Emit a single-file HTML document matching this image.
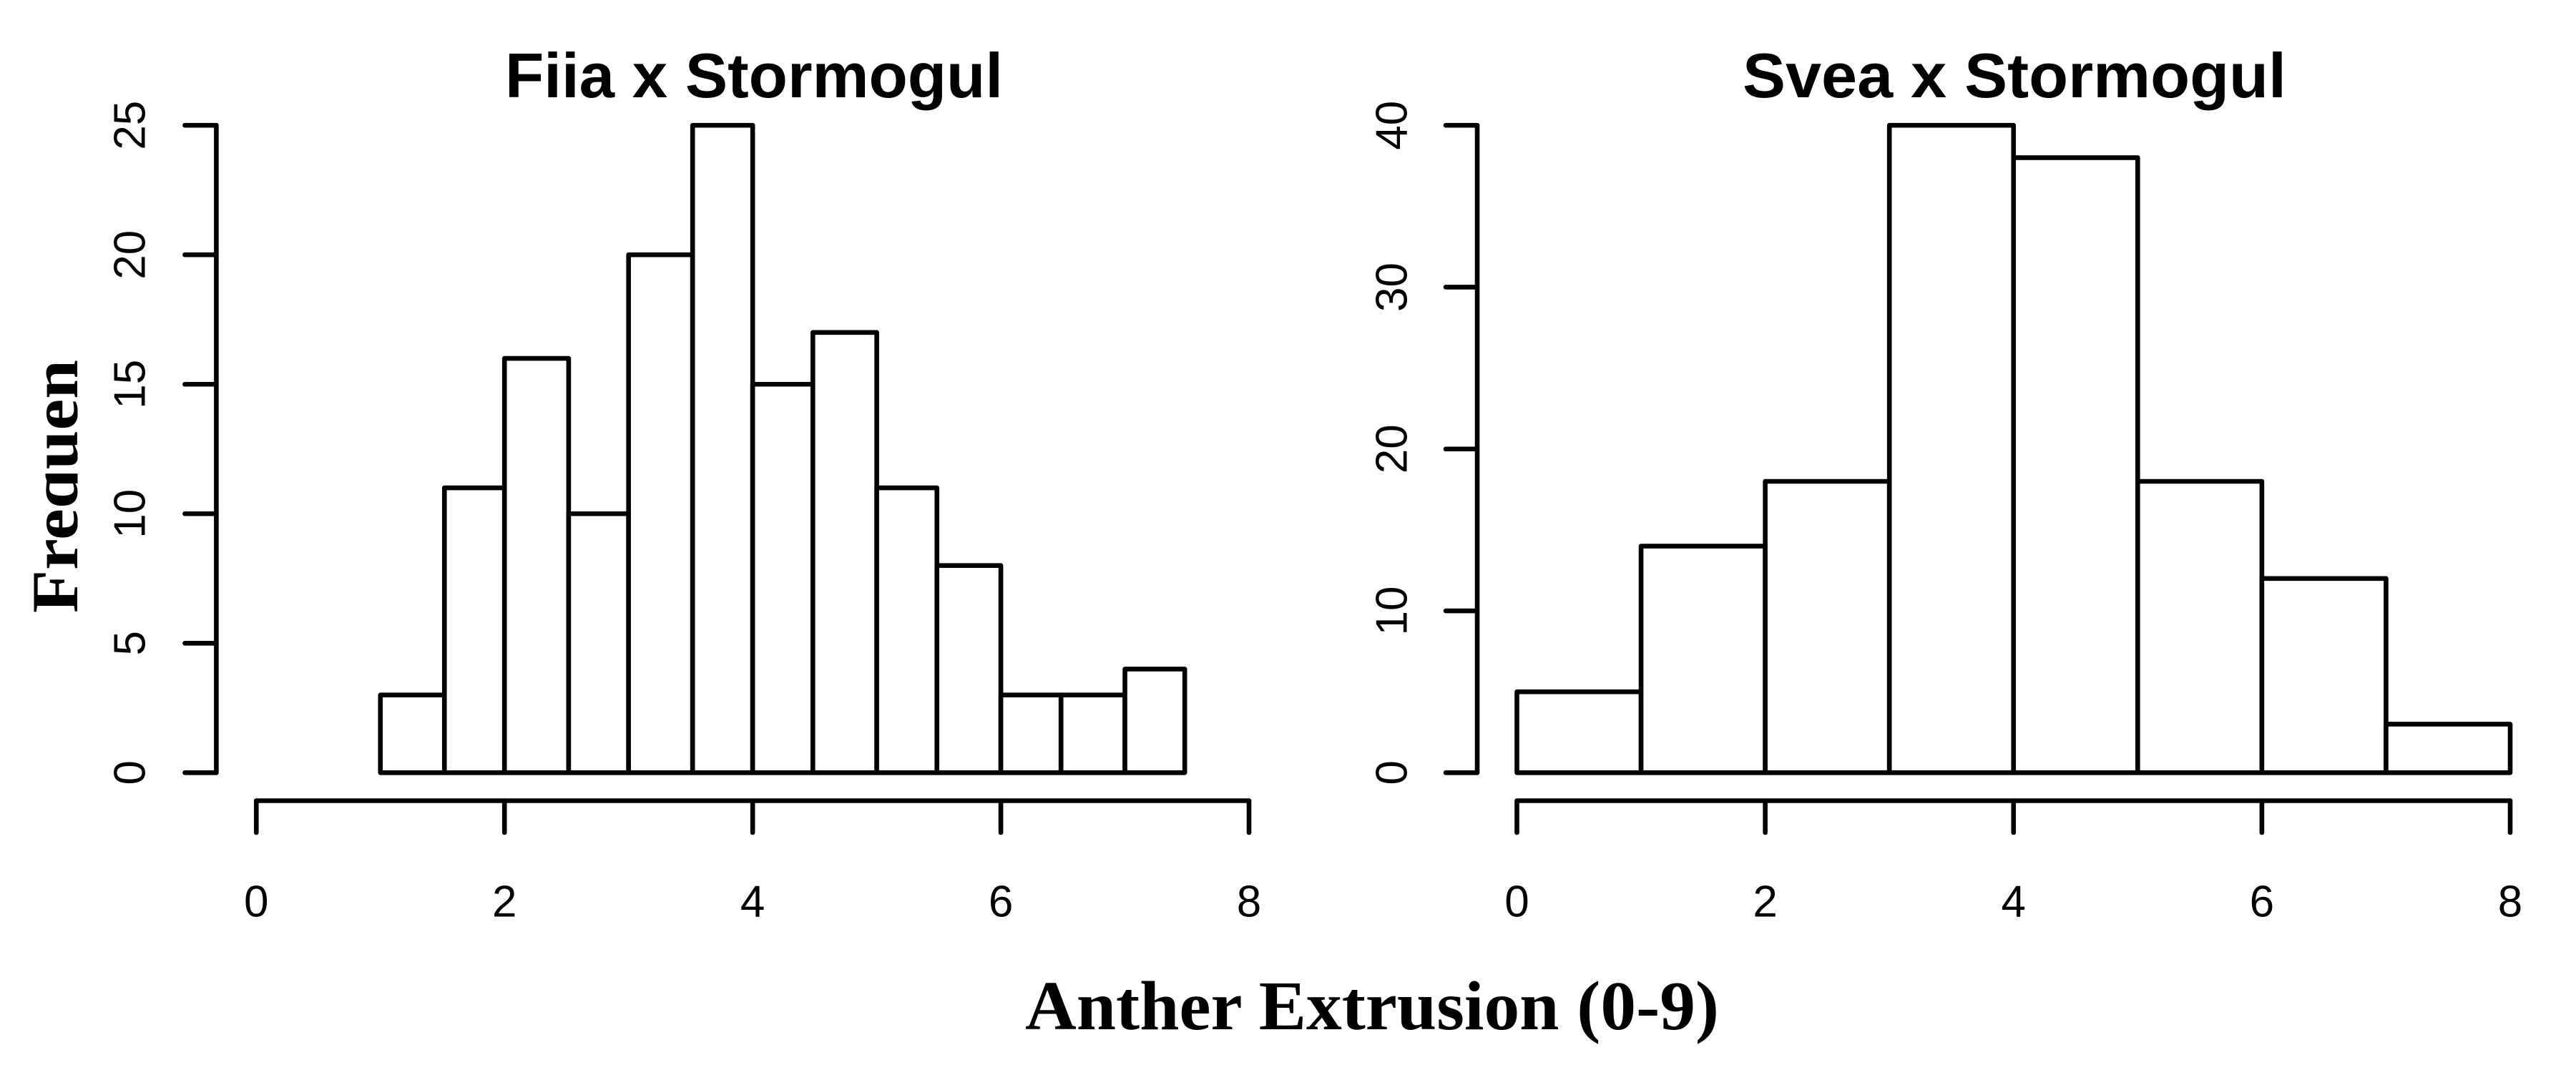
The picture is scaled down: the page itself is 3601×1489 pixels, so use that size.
<!DOCTYPE html>
<html lang="en">
<head>
<meta charset="utf-8">
<title>Anther Extrusion Histograms</title>
<style>
html,body{margin:0;padding:0;background:#fff;width:3601px;height:1489px;overflow:hidden}
svg{display:block}
.tick-label{font-family:"Liberation Sans",Arial,sans-serif;font-size:62px;fill:#000;text-anchor:middle}
.panel-title{font-family:"Liberation Sans",Arial,sans-serif;font-size:88px;font-weight:bold;fill:#000}
.axis-title{font-family:"Liberation Serif","Times New Roman",serif;font-weight:bold;fill:#000}
</style>
</head>
<body>
<svg id="chart" xmlns="http://www.w3.org/2000/svg" width="3601" height="1489" viewBox="0 0 3601 1489">
  <rect x="0" y="0" width="3601" height="1489" fill="#fff"/>
  <defs>
    <clipPath id="freq-clip"><rect x="0" y="400" width="108.5" height="600"/></clipPath>
  </defs>
  <text class="panel-title" x="706" y="136" textLength="696" lengthAdjust="spacingAndGlyphs">Fiia x Stormogul</text>
  <text class="panel-title" x="2436" y="136" textLength="760" lengthAdjust="spacingAndGlyphs">Svea x Stormogul</text>
  <g clip-path="url(#freq-clip)">
    <text class="axis-title" font-size="92" transform="translate(108 857) rotate(-90)" x="0" y="0" textLength="354" lengthAdjust="spacingAndGlyphs">Frequen</text>
  </g>
  <text class="axis-title" font-size="98" x="1433" y="1439" textLength="970" lengthAdjust="spacingAndGlyphs">Anther Extrusion (0-9)</text>
  <g id="plots"></g>
</svg>
<script>
var fiiaBreaks = [1, 1.516, 2, 2.517, 3, 3.516, 4, 4.485, 5, 5.485, 6, 6.485, 7, 7.482];
var fiiaCounts = [3, 11, 16, 10, 20, 25, 15, 17, 11, 8, 3, 3, 4];
var fiiaYTicks = [0, 5, 10, 15, 20, 25];
var fiiaXTicks = [0, 2, 4, 6, 8];

var sveaBreaks = [0, 1, 2, 3, 4, 5, 6, 7, 8];
var sveaCounts = [5, 14, 18, 40, 38, 18, 12, 3];
var sveaYTicks = [0, 10, 20, 30, 40];
var sveaXTicks = [0, 2, 4, 6, 8];

var SVG_NS = 'http://www.w3.org/2000/svg';
var root = document.getElementById('plots');
var STROKE = 6.6;

function scale(d0, d1, r0, r1) {
  return function (v) { return r0 + (v - d0) * (r1 - r0) / (d1 - d0); };
}

function lineEl(parent, d) {
  var p = document.createElementNS(SVG_NS, 'path');
  p.setAttribute('d', d);
  p.setAttribute('fill', 'none');
  p.setAttribute('stroke', '#000');
  p.setAttribute('stroke-width', STROKE);
  p.setAttribute('stroke-linecap', 'round');
  p.setAttribute('stroke-linejoin', 'round');
  parent.appendChild(p);
  return p;
}

function drawPanel(key, breaks, counts, yTicks, xTicks, xAt, yAt, yAxisX, yLabelX) {
  var g = document.createElementNS(SVG_NS, 'g');
  
  
  root.appendChild(g);

  var i, v, x, y;
  var baseY = yAt(0);

  for (i = 0; i < counts.length; i++) {
    var bar = document.createElementNS(SVG_NS, 'rect');
    bar.setAttribute('x', xAt(breaks[i]));
    bar.setAttribute('y', yAt(counts[i]));
    bar.setAttribute('width', xAt(breaks[i + 1]) - xAt(breaks[i]));
    bar.setAttribute('height', baseY - yAt(counts[i]));
    bar.setAttribute('fill', '#fff');
    bar.setAttribute('stroke', '#000');
    bar.setAttribute('stroke-width', STROKE);
    bar.setAttribute('stroke-linejoin', 'round');
    
    
    g.appendChild(bar);
  }

  var yAxis = lineEl(g, 'M' + yAxisX + ' ' + yAt(yTicks[0]) + 'V' + yAt(yTicks[yTicks.length - 1]));
  
  

  for (i = 0; i < yTicks.length; i++) {
    v = yTicks[i];
    y = yAt(v);
    var yt = lineEl(g, 'M' + yAxisX + ' ' + y + 'H' + (yAxisX - 44));
    
    
    var yl = document.createElementNS(SVG_NS, 'text');
    yl.setAttribute('class', 'tick-label');
    yl.setAttribute('transform', 'translate(' + yLabelX + ' ' + y + ') rotate(-90)');
    yl.textContent = String(v);
    
    
    g.appendChild(yl);
  }

  var AXIS_Y = 1119.5;
  var xAxis = lineEl(g, 'M' + xAt(xTicks[0]) + ' ' + AXIS_Y + 'H' + xAt(xTicks[xTicks.length - 1]));
  
  

  for (i = 0; i < xTicks.length; i++) {
    v = xTicks[i];
    x = xAt(v);
    var xt = lineEl(g, 'M' + x + ' ' + AXIS_Y + 'V1164');
    
    
    var xl = document.createElementNS(SVG_NS, 'text');
    xl.setAttribute('class', 'tick-label');
    xl.setAttribute('x', x);
    xl.setAttribute('y', 1281.5);
    xl.textContent = String(v);
    
    
    g.appendChild(xl);
  }
}

drawPanel('fiia', fiiaBreaks, fiiaCounts, fiiaYTicks, fiiaXTicks,
  scale(0, 8, 358.3, 1746), scale(0, 25, 1080.3, 175.2), 302.4, 202.5);
drawPanel('svea', sveaBreaks, sveaCounts, sveaYTicks, sveaXTicks,
  scale(0, 8, 2120.5, 3509), scale(0, 40, 1080.3, 175.2), 2065, 1966.5);
</script>
</body>
</html>
